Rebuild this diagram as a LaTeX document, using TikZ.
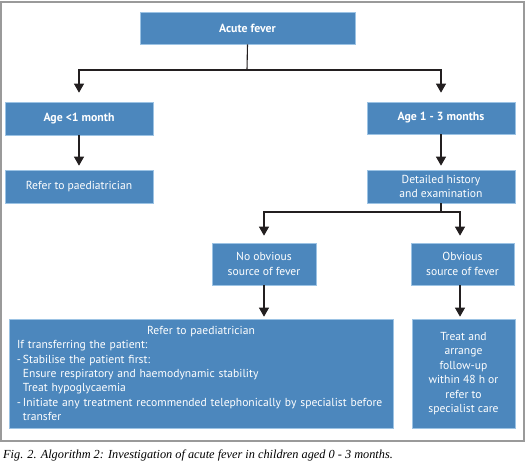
\documentclass[tikz,border=0pt]{standalone}
\usepackage{fontspec}
\setmainfont{PT Sans}
\newfontfamily\capfont{Liberation Serif}
\usetikzlibrary{arrows.meta}
\definecolor{boxfill}{HTML}{4C87BD}
\definecolor{boxline}{HTML}{9CC3E4}
\definecolor{framegray}{HTML}{9A9A9A}
\definecolor{linecol}{HTML}{231F20}
\begin{document}
\begin{tikzpicture}[x=1pt,y=-1pt,
  box/.style={rectangle, fill=boxfill, draw=boxline, line width=0.7pt, inner sep=0pt,
    text=white, align=center, font=\fontsize{11.6}{14.4}\selectfont},
  headbox/.style={box, font=\fontsize{11.8}{14.4}\selectfont\bfseries},
  conn/.style={draw=linecol, line width=1.1pt},
  arr/.style={conn, -{Triangle[width=10pt,length=9pt]}}]
\useasboundingbox (0,0) rectangle (528,463);
\draw[framegray, line width=1.5pt] (1,2) rectangle (524,441);

\node[headbox, minimum width=215pt, minimum height=32pt] (acute) at (247.5,28) {Acute fever};
\node[headbox, minimum width=148pt, minimum height=33pt] (young) at (79,118.5) {Age <1 month};
\node[headbox, minimum width=148pt, minimum height=32pt] (older) at (441,118) {Age 1 - 3 months};
\node[box, minimum width=148pt, minimum height=33pt] (refer1) at (79,186.5) {Refer to paediatrician};
\node[box, minimum width=148pt, minimum height=33pt] (hist) at (441,186.5) {Detailed history\\and examination};
\node[box, minimum width=104pt, minimum height=42pt] (noobv) at (264,264) {No obvious\\source of fever};
\node[box, minimum width=103pt, minimum height=42pt] (obv) at (462.5,264) {Obvious\\source of fever};
\node[box, minimum width=384pt, minimum height=109pt, text width=372pt, align=left] (refer2) at (201,373.5)
 {\makebox[\linewidth]{Refer to paediatrician}\\
  \hspace*{2pt}If transferring the patient:\\
  \makebox[8pt][r]{-\,}Stabilise the patient first:\\
  \hspace*{8pt}Ensure respiratory and haemodynamic stability\\
  \hspace*{8pt}Treat hypoglycaemia\\
  \makebox[8pt][r]{-\,}Initiate any treatment recommended telephonically by specialist before\\
  \hspace*{8pt}transfer};
\node[box, minimum width=103pt, minimum height=109pt] (treat) at (463.5,373.5)
 {Treat and\\arrange\\follow-up\\within 48 h or\\refer to\\specialist care};

\coordinate (j1) at (247,70);
\coordinate (j2) at (441,212);
\draw[conn] (acute.south) -- (j1);
\draw[arr, shorten >=9pt] (j1) -| (young.north);
\draw[arr, shorten >=9pt] (j1) -| (older.north);
\draw[arr, shorten >=4pt] (young.south) -- (refer1.north);
\draw[arr, shorten >=4pt] (older.south) -- (hist.north);
\draw[conn] (hist.south) -- (j2);
\draw[arr, shorten >=7pt] (j2) -| (noobv.north);
\draw[arr, shorten >=7pt] (j2) -| ([xshift=-2.5pt]obv.north);
\draw[arr, shorten >=2pt] (noobv.south) -- (noobv.south |- refer2.north);
\draw[arr, shorten >=2pt] ([xshift=-2.5pt]obv.south) -- ([xshift=-3.5pt]treat.north);

\node[anchor=west, inner sep=0pt, font=\capfont\itshape\fontsize{12.3}{14}\selectfont] (cap) at (3,455)
 {Fig. 2. Algorithm 2: Investigation of acute fever in children aged 0 - 3 months.};
\end{tikzpicture}
\end{document}
